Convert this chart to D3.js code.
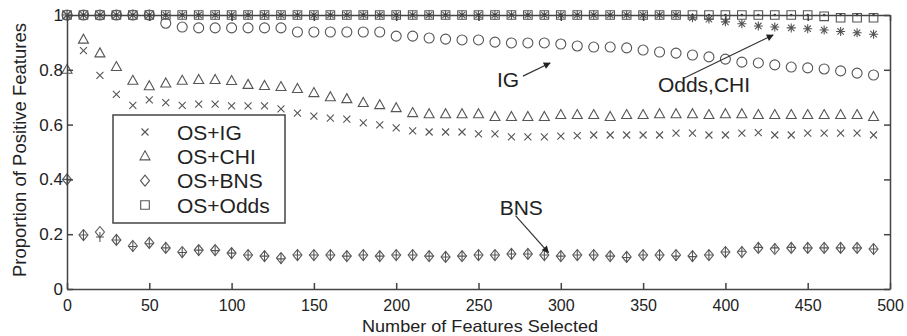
<!DOCTYPE html>
<html>
<head>
<meta charset="utf-8">
<script src="https://cdn.jsdelivr.net/npm/d3@7"></script>
<style>
  body { margin: 0; background: #fff; }
  svg text { font-family: "Liberation Sans", Arial, Helvetica, sans-serif; fill: #222; }
</style>
</head>
<body>
<script>
// number of features selected (x positions of the markers)
const featureCounts = [0,10,20,30,40,50,60,70,80,90,100,110,120,130,140,150,160,170,180,190,
  200,210,220,230,240,250,260,270,280,290,300,310,320,330,340,350,360,370,380,390,
  400,410,420,430,440,450,460,470,480,490];

// OS+ series (legend)
const osIG = [1.0,0.87,0.78,0.71,0.67,0.69,0.68,0.67,0.675,0.675,0.668,0.668,0.668,0.657,0.642,0.631,0.624,0.62,0.606,0.599,
  0.588,0.577,0.573,0.573,0.573,0.566,0.566,0.555,0.555,0.555,0.558,0.56,0.562,0.562,0.562,0.562,0.562,0.569,0.569,0.562,
  0.562,0.569,0.571,0.562,0.562,0.569,0.569,0.569,0.569,0.562];
const osCHI = [0.80,0.91,0.86,0.81,0.76,0.74,0.75,0.76,0.763,0.763,0.759,0.745,0.741,0.737,0.73,0.715,0.70,0.693,0.679,0.671,
  0.66,0.642,0.638,0.638,0.638,0.638,0.628,0.628,0.628,0.628,0.635,0.635,0.635,0.628,0.635,0.635,0.638,0.638,0.638,0.635,
  0.638,0.638,0.635,0.635,0.635,0.635,0.635,0.635,0.635,0.628];
const osBNS = [0.40,0.197,0.208,0.179,0.157,0.168,0.15,0.135,0.142,0.142,0.131,0.124,0.12,0.113,0.124,0.124,0.124,0.12,0.124,0.12,
  0.124,0.124,0.12,0.117,0.12,0.124,0.124,0.128,0.128,0.124,0.12,0.124,0.124,0.12,0.117,0.124,0.124,0.124,0.12,0.124,
  0.135,0.135,0.15,0.146,0.15,0.15,0.15,0.15,0.15,0.146];
const osOdds = [1,1,1,1,1,1,1,1,1,1,1,1,1,1,1,1,1,1,1,1,
  1,1,1,1,1,1,1,1,1,1,1,1,1,1,1,1,1,1,1,1,
  1,1,1,1,1,1,0.995,0.99,0.99,0.99];

// plain selection series (annotated)
const plainIG = [1,1,1,1,1,1,0.97,0.956,0.953,0.953,0.953,0.953,0.953,0.953,0.938,0.938,0.938,0.938,0.938,0.938,
  0.923,0.923,0.916,0.912,0.909,0.909,0.901,0.898,0.898,0.898,0.894,0.887,0.883,0.883,0.88,0.872,0.865,0.861,0.854,0.847,
  0.839,0.828,0.825,0.818,0.81,0.807,0.803,0.796,0.788,0.781];
const plainOdds = [1,1,1,1,1,1,1,1,1,1,1,1,1,1,1,1,1,1,1,1,
  1,1,1,1,1,1,1,1,1,1,1,1,1,1,1,1,1,1,0.99,0.985,
  0.975,0.968,0.96,0.956,0.953,0.95,0.945,0.94,0.935,0.93];
const plainCHI = [1,1,1,1,1,1,1,1,1,1,1,1,1,1,1,1,1,1,1,1,
  1,1,1,1,1,1,1,1,1,1,1,1,1,1,1,1,1,1,1,1,
  1,1,1,1,1,1,1,1,1,1];
const plainBNS = [0.40,0.197,0.19,0.179,0.155,0.165,0.15,0.133,0.142,0.14,0.131,0.124,0.12,0.11,0.124,0.124,0.124,0.12,0.124,0.12,
  0.124,0.124,0.12,0.117,0.12,0.124,0.124,0.128,0.128,0.124,0.12,0.124,0.124,0.12,0.115,0.124,0.124,0.12,0.118,0.124,
  0.135,0.138,0.152,0.15,0.152,0.15,0.15,0.15,0.15,0.146];

const legendLabels = ["OS+IG", "OS+CHI", "OS+BNS", "OS+Odds"];
const xTicks = [0,50,100,150,200,250,300,350,400,450,500];
const yTicks = [0,0.2,0.4,0.6,0.8,1];
const yTickLabels = ["0","0.2","0.4","0.6","0.8","1"];

// annotations: text + arrow, in data units
const notes = [
  {text: "IG", tx: 268, ty: 0.763, x1: 277, y1: 0.777, x2: 293.5, y2: 0.825},
  {text: "Odds,CHI", tx: 387, ty: 0.745, x1: 375, y1: 0.77, x2: 429, y2: 0.927},
  {text: "BNS", tx: 276, ty: 0.296, x1: 272.5, y1: 0.268, x2: 292.5, y2: 0.133}
];

const width = 907, height = 336;
const svg = d3.select("body").append("svg")
  .attr("width", width).attr("height", height);

const x = d3.scaleLinear().domain([0, 500]).range([67, 890]);
const y = d3.scaleLinear().domain([0, 1]).range([289, 15]);

// marker shapes centred at 0,0
function shape(type) {
  switch (type) {
    case "x": return "M-3.5,-3.5L3.5,3.5M-3.5,3.5L3.5,-3.5";
    case "tri": return "M0,-5.5L5,3.5L-5,3.5Z";
    case "dia": return "M0,-5.5L4.5,0L0,5.5L-4.5,0Z";
    case "sq": return "M-4.3,-4.3H4.3V4.3H-4.3Z";
    case "plus": return "M-4,0H4M0,-5V5";
    case "star": return "M-4.5,0H4.5M0,-4.5V4.5M-3.2,-3.2L3.2,3.2M-3.2,3.2L3.2,-3.2";
  }
}

const series = [
  {vals: plainIG, type: "circle"},
  {vals: plainOdds, type: "star"},
  {vals: osOdds, type: "sq"},
  {vals: plainCHI, type: "dot"},
  {vals: osIG, type: "x"},
  {vals: osCHI, type: "tri"},
  {vals: osBNS, type: "dia"},
  {vals: plainBNS, type: "plus"}
];

const plot = svg.append("g");
series.forEach(s => {
  const g = plot.append("g");
  featureCounts.forEach((fc, i) => {
    if (s.type == "circle") {
      g.append("circle").attr("cx", x(fc)).attr("cy", y(s.vals[i])).attr("r", 5)
        .attr("fill", "none").attr("stroke", "#555").attr("stroke-width", 1.1);
    } else if (s.type == "dot") {
      g.append("circle").attr("cx", x(fc)).attr("cy", y(s.vals[i])).attr("r", 1.3)
        .attr("fill", "#333");
    } else {
      g.append("path").attr("d", shape(s.type))
        .attr("transform", `translate(${x(fc)},${y(s.vals[i])})`)
        .attr("fill", "none").attr("stroke", "#555").attr("stroke-width", 1.1);
    }
  });
});

// axes
function styleAxis(g, size) {
  g.selectAll("path, line").attr("stroke", "#444").attr("stroke-width", 1.5);
  g.selectAll("text").attr("fill", "#222").style("font-size", size)
    .style("font-family", "'Liberation Sans', Arial, sans-serif");
}

svg.append("g").attr("transform", "translate(0,289)")
  .call(d3.axisBottom(x).tickValues(xTicks).tickSize(-6).tickSizeOuter(0).tickPadding(11))
  .call(styleAxis, "16px");
svg.append("g").attr("transform", "translate(0,15)")
  .call(d3.axisTop(x).tickValues(xTicks).tickSize(-6).tickSizeOuter(0).tickFormat(""))
  .call(styleAxis, "16px");
svg.append("g").attr("transform", "translate(67,0)")
  .call(d3.axisLeft(y).tickValues(yTicks).tickSize(-6).tickSizeOuter(0).tickPadding(4)
    .tickFormat((d, i) => yTickLabels[i]))
  .call(styleAxis, "17px");
svg.append("g").attr("transform", "translate(890,0)")
  .call(d3.axisRight(y).tickValues(yTicks).tickSize(-6).tickSizeOuter(0).tickFormat(""))
  .call(styleAxis, "17px");

// axis titles
svg.append("text").attr("x", 480).attr("y", 332.3).attr("text-anchor", "middle")
  .attr("textLength", 236).attr("lengthAdjust", "spacingAndGlyphs")
  .style("font-size", "16.5px").text("Number of Features Selected");
svg.append("text").attr("transform", "translate(26,150) rotate(-90)")
  .attr("text-anchor", "middle").style("font-size", "18.5px")
  .text("Proportion of Positive Features");

// annotations
svg.append("defs").append("marker").attr("id", "head")
  .attr("viewBox", "0 0 10 10").attr("refX", 9).attr("refY", 5)
  .attr("markerWidth", 9).attr("markerHeight", 7).attr("markerUnits", "userSpaceOnUse")
  .attr("orient", "auto")
  .append("path").attr("d", "M0,0L10,5L0,10Z").attr("fill", "#222");

notes.forEach(n => {
  svg.append("line").attr("x1", x(n.x1)).attr("y1", y(n.y1))
    .attr("x2", x(n.x2)).attr("y2", y(n.y2))
    .attr("stroke", "#333").attr("stroke-width", 1.2).attr("marker-end", "url(#head)");
  svg.append("text").attr("x", x(n.tx)).attr("y", y(n.ty)).attr("dy", "0.35em")
    .attr("text-anchor", "middle").style("font-size", "21px").text(n.text);
});

// legend
const legend = svg.append("g");
legend.append("rect").attr("x", 113).attr("y", 115).attr("width", 172).attr("height", 108)
  .attr("fill", "#fff").attr("stroke", "#444").attr("stroke-width", 1.5);
const legendTypes = ["x", "tri", "dia", "sq"];
const legendY = d3.scalePoint().domain(legendLabels).range([132, 205]);
legendLabels.forEach((lab, i) => {
  legend.append("path").attr("d", shape(legendTypes[i]))
    .attr("transform", `translate(145,${legendY(lab)})`)
    .attr("fill", "none").attr("stroke", "#555").attr("stroke-width", 1.1);
  legend.append("text").attr("x", 177).attr("y", legendY(lab)).attr("dy", "0.36em")
    .style("font-size", "21px").text(lab);
});
</script>
</body>
</html>
